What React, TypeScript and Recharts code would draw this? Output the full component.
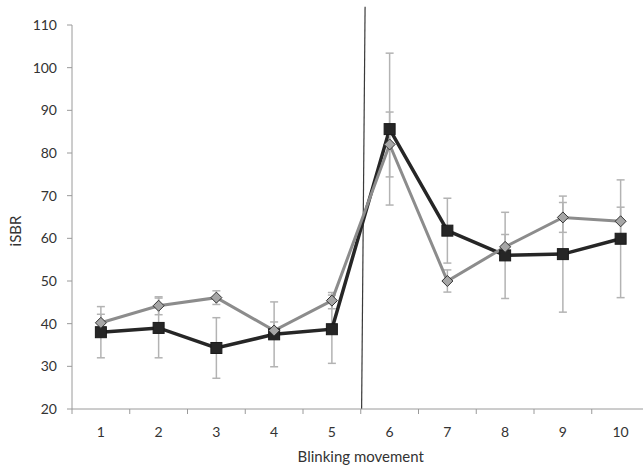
import React from 'react';
import { LineChart, Line, XAxis, YAxis, ErrorBar, ReferenceLine } from 'recharts';

const categories = [1, 2, 3, 4, 5, 6, 7, 8, 9, 10];
const blackValues = [38.0, 39.0, 34.3, 37.5, 38.7, 85.6, 61.8, 56.0, 56.3, 59.9];
const blackErrors = [6.0, 7.0, 7.1, 7.6, 8.0, 17.8, 7.6, 10.1, 13.6, 13.8];
const grayValues = [40.2, 44.2, 46.1, 38.4, 45.4, 82.0, 50.0, 58.0, 64.9, 64.0];
const grayErrors = [2.0, 2.1, 1.6, 2.0, 1.9, 7.6, 2.6, 2.9, 3.5, 3.3];
const yTicks = [20, 30, 40, 50, 60, 70, 80, 90, 100, 110];
const xTicks = [0.5, 1, 1.5, 2, 2.5, 3, 3.5, 4, 4.5, 5, 5.5, 6, 6.5, 7, 7.5, 8, 8.5, 9, 9.5, 10, 10.5];
const dividerBottomX = 5.515;
const dividerTopX = 5.575;

const data = categories.map((c, i) => ({
  x: c,
  black: blackValues[i],
  blackErr: blackErrors[i],
  gray: grayValues[i],
  grayErr: grayErrors[i],
}));

const FONT = 'Lato, "Open Sans", sans-serif';
const TEXT = '#333333';
const AXIS = '#9a9a9a';

const XTick = (props: any) => {
  const { x, y, payload } = props;
  const v = payload.value;
  if (Number.isInteger(v)) {
    return (
      <text x={x} y={y + 28} textAnchor="middle" fill={TEXT} fontSize={14} fontFamily={FONT}>
        {v}
      </text>
    );
  }
  return <line x1={x} y1={y} x2={x} y2={y + 5} stroke={AXIS} strokeWidth={1} />;
};

const SquareDot = (props: any) => {
  const { cx, cy, index } = props;
  if (cx == null || cy == null) return null;
  return <rect key={`sq-${index}`} x={cx - 5.5} y={cy - 5.5} width={11} height={11} fill="#262626" stroke="#1a1a1a" strokeWidth={1} />;
};

const DiamondDot = (props: any) => {
  const { cx, cy, index } = props;
  if (cx == null || cy == null) return null;
  const r = 5.5;
  return (
    <polygon
      key={`dm-${index}`}
      points={`${cx},${cy - r} ${cx + r},${cy} ${cx},${cy + r} ${cx - r},${cy}`}
      fill="#a6a6a6"
      stroke="#333333"
      strokeWidth={1}
    />
  );
};

const YTitle = (props: any) => {
  const { viewBox } = props;
  const cx = viewBox.x + 15;
  const cy = viewBox.y + viewBox.height / 2 + 14;
  return (
    <text
      x={cx}
      y={cy}
      transform={`rotate(-90, ${cx}, ${cy})`}
      textAnchor="middle"
      dominantBaseline="central"
      fill={TEXT}
      fontSize={15}
      fontFamily={FONT}
    >
      iSBR
    </text>
  );
};

export default function App() {
  return (
    <div style={{ position: 'absolute', left: 0, top: 0, width: 643, height: 468, overflow: 'hidden', background: '#fff' }}>
      <LineChart width={652} height={468} data={data} margin={{ top: 25, right: 2.5, bottom: 0, left: 0 }}>
        <XAxis
          dataKey="x"
          type="number"
          domain={[0.5, 10.5]}
          ticks={xTicks}
          interval={0}
          tick={<XTick />}
          tickLine={false}
          tickSize={0}
          tickMargin={0}
          height={59}
          axisLine={{ stroke: AXIS, strokeWidth: 1 }}
          label={{ value: 'Blinking movement', position: 'insideBottom', offset: 6, fill: TEXT, fontSize: 15, fontFamily: FONT }}
        />
        <YAxis
          type="number"
          domain={[20, 110]}
          ticks={yTicks}
          interval={0}
          width={72}
          tickSize={5}
          tickMargin={10}
          tickLine={{ stroke: AXIS }}
          axisLine={{ stroke: AXIS, strokeWidth: 1 }}
          tick={{ fill: TEXT, fontSize: 14, fontFamily: FONT }}
          label={<YTitle />}
        />
        <ReferenceLine
          segment={[{ x: dividerBottomX, y: 20 }, { x: dividerTopX, y: 114.3 }]}
          stroke="#3a3a3a"
          strokeWidth={1.2}
          ifOverflow="visible"
        />
        <Line
          type="linear"
          dataKey="black"
          stroke="#262626"
          strokeWidth={3.5}
          dot={<SquareDot />}
          activeDot={false}
          isAnimationActive={false}
        >
          <ErrorBar dataKey="blackErr" direction="y" width={4} strokeWidth={1.5} stroke="#b3b3b3" />
        </Line>
        <Line
          type="linear"
          dataKey="gray"
          stroke="#8c8c8c"
          strokeWidth={3}
          dot={<DiamondDot />}
          activeDot={false}
          isAnimationActive={false}
        >
          <ErrorBar dataKey="grayErr" direction="y" width={4} strokeWidth={1.5} stroke="#b3b3b3" />
        </Line>
      </LineChart>
    </div>
  );
}
